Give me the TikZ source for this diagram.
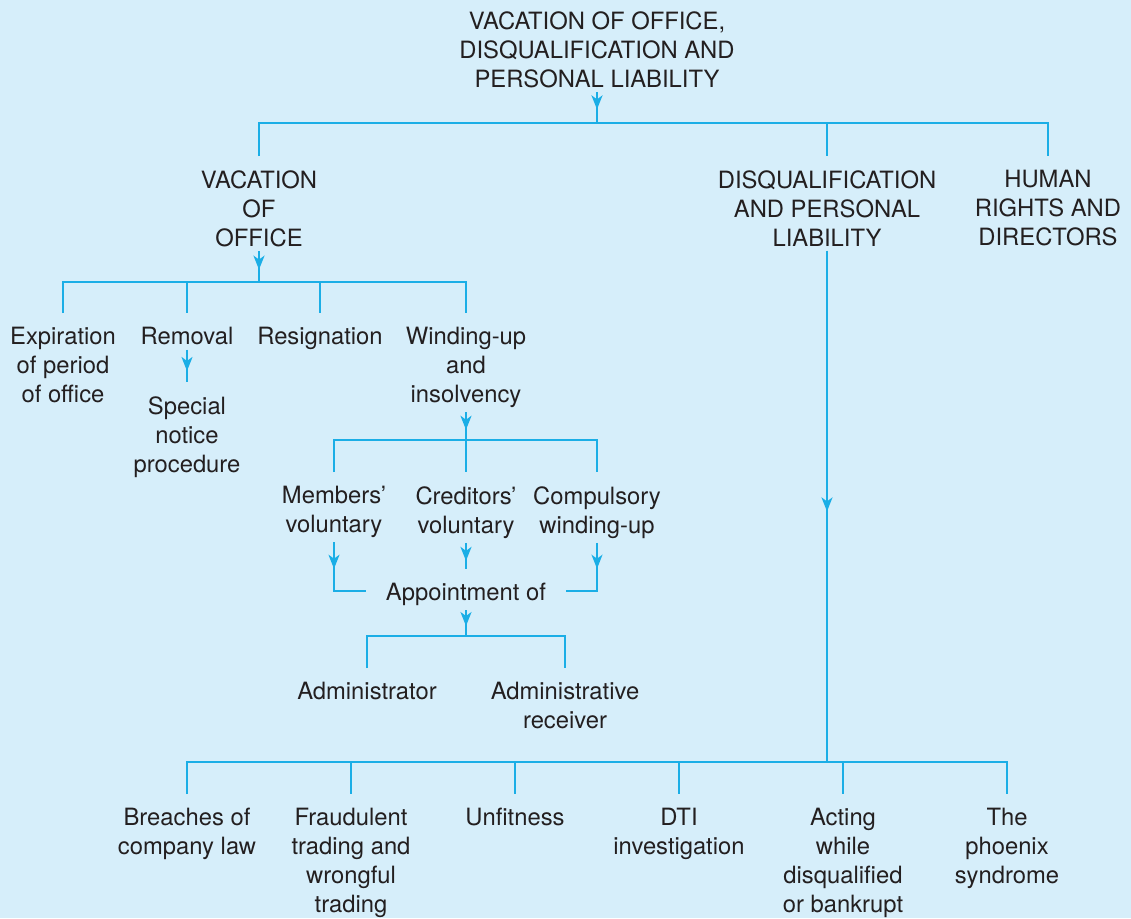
\documentclass[tikz,border=0pt]{standalone}
\usepackage{fontspec}
\setmainfont{TeX Gyre Heros}
\usetikzlibrary{arrows.meta,decorations.markings,calc}

\definecolor{paneblue}{HTML}{D6EEFA}
\definecolor{linkblue}{HTML}{1BAEE6}
\definecolor{inkgrey}{HTML}{231F20}

\begin{document}
\begin{tikzpicture}[x=0.5pt,y=-0.5pt]
\tikzset{
    lbl/.style={align=center,anchor=north,inner sep=0pt,text=inkgrey,
        font=\fontsize{11.9}{14.5}\selectfont},
    link/.style={linkblue,line width=1pt},
    midarr/.style={postaction={decorate},decoration={markings,
        mark=at position #1 with {\arrow{Stealth[length=7pt,width=5.5pt,inset=2pt]}}}},
    midarr/.default=0.6
}
\fill[paneblue] (0,0) rectangle (1131,918);
\useasboundingbox (0,0) rectangle (1131,918);

\node[lbl] (top) at (597,11) {VACATION OF OFFICE,\\DISQUALIFICATION AND\\PERSONAL LIABILITY};

\node[lbl] (vac) at (259,170) {VACATION\\OF\\OFFICE};
\node[lbl] (dis) at (827,170) {DISQUALIFICATION\\AND PERSONAL\\LIABILITY};
\node[lbl] (hum) at (1048,170) {HUMAN\\RIGHTS AND\\DIRECTORS};

\node[lbl] (exp) at (63,327) {Expiration\\of period\\of office};
\node[lbl] (rem) at (187,327) {Removal};
\node[lbl] (res) at (320,327) {Resignation};
\node[lbl] (wind) at (466,327) {Winding-up\\and\\insolvency};
\node[lbl] (spec) at (187,396) {Special\\notice\\procedure};

\node[lbl] (mem) at (334,486) {Members'\\voluntary};
\node[lbl] (cred) at (466,486) {Creditors'\\voluntary};
\node[lbl] (comp) at (597,486) {Compulsory\\winding-up};
\node[lbl] (app) at (466,583) {Appointment of};
\node[lbl] (adm) at (367,682) {Administrator};
\node[lbl] (rec) at (565,682) {Administrative\\receiver};

\node[lbl] (brc) at (187,808) {Breaches of\\company law};
\node[lbl] (frd) at (351,808) {Fraudulent\\trading and\\wrongful\\trading};
\node[lbl] (unf) at (515,808) {Unfitness};
\node[lbl] (dti) at (679,808) {DTI\\investigation};
\node[lbl] (act) at (843,808) {Acting\\while\\disqualified\\or bankrupt};
\node[lbl] (phx) at (1007,808) {The\\phoenix\\syndrome};

\coordinate (barA) at (597,123);
\coordinate (barB) at (259,282);
\coordinate (barC) at (466,440);
\coordinate (barD) at (466,636);
\coordinate (barE) at (827,762);

\draw[link,midarr=0.56] ([yshift=-2pt]top.south) -- (barA);
\draw[link] ([yshift=7pt]vac.north) |- (barA -| hum) -- ([yshift=7pt]hum.north);
\draw[link] (barA -| dis) -- ([yshift=7pt]dis.north);

\draw[link,midarr] ([yshift=-2pt]vac.south) -- (barB);
\draw[link] ([yshift=7pt]exp.north) |- (barB -| wind) -- ([yshift=7pt]wind.north);
\draw[link] (barB -| rem) -- ([yshift=7pt]rem.north);
\draw[link] (barB -| res) -- ([yshift=7pt]res.north);
\draw[link,midarr=0.66] ([yshift=-2pt]rem.south) -- ([yshift=7pt]spec.north);

\draw[link,midarr=0.63] ([yshift=-2pt]wind.south) -- (barC);
\draw[link] ([yshift=7pt]mem.north) |- (barC -| comp) -- ([yshift=7pt]comp.north);
\draw[link] (barC) -- ([yshift=7pt]cred.north);

\draw[link,midarr=0.33] ([yshift=-2pt]mem.south) |- ([xshift=-10pt,yshift=2pt]app.west);
\draw[link,midarr=0.33] ([yshift=-2pt]comp.south) |- ([xshift=10pt,yshift=2pt]app.east);
\draw[link,midarr=0.69] ([yshift=-2pt]cred.south) -- ([yshift=7pt]app.north);

\draw[link,midarr=0.61] ([yshift=-2pt]app.south) -- (barD);
\draw[link] ([yshift=7pt]adm.north) |- (barD -| rec) -- ([yshift=7pt]rec.north);

\draw[link,midarr=0.51] ([yshift=-2pt]dis.south) -- (barE);
\draw[link] ([yshift=7pt]brc.north) |- (barE -| phx) -- ([yshift=7pt]phx.north);
\draw[link] (barE -| frd) -- ([yshift=7pt]frd.north);
\draw[link] (barE -| unf) -- ([yshift=7pt]unf.north);
\draw[link] (barE -| dti) -- ([yshift=7pt]dti.north);
\draw[link] (barE -| act) -- ([yshift=7pt]act.north);
\end{tikzpicture}
\end{document}
